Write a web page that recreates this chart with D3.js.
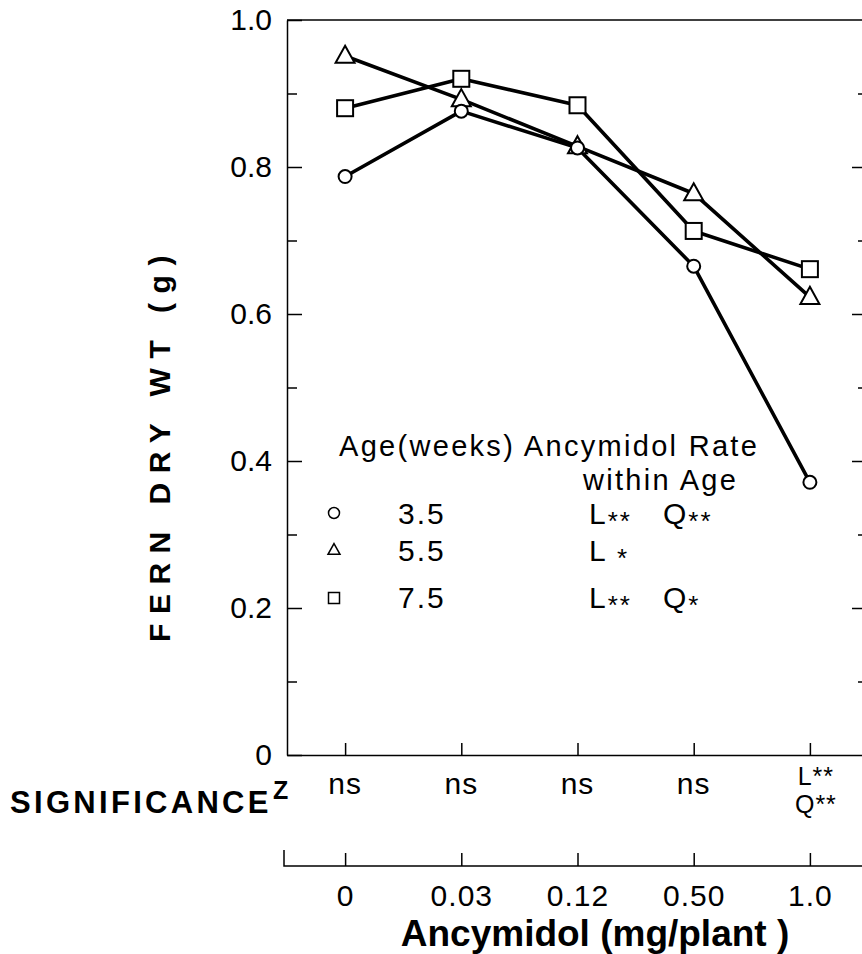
<!DOCTYPE html>
<html>
<head>
<meta charset="utf-8">
<script src="https://cdn.jsdelivr.net/npm/d3@7/dist/d3.min.js"></script>
<style>
  html, body { margin: 0; padding: 0; background: #fff; }
  svg { display: block; }
  text { font-family: "Liberation Sans", Arial, Helvetica, sans-serif; fill: #000; }
</style>
</head>
<body>
<svg id="chart" width="862" height="954"></svg>
<script>
// ---- data ----
const categories = ["0", "0.03", "0.12", "0.50", "1.0"];
const age35 = [0.787, 0.876, 0.826, 0.665, 0.371];
const age55 = [0.951, 0.892, 0.828, 0.764, 0.623];
const age75 = [0.880, 0.920, 0.884, 0.713, 0.661];
const yMajorTicks = [0, 0.2, 0.4, 0.6, 0.8, 1.0];
const yMinorTicks = [0.1, 0.3, 0.5, 0.7, 0.9];
const significance = [["ns"], ["ns"], ["ns"], ["ns"], ["L**", "Q**"]];
const legendAges = ["3.5", "5.5", "7.5"];
const legendRates = [["L", "**", "   Q", "**"], ["L", " *"], ["L", "**", "   Q", "*"]];
const seriesShapes = ["circle", "triangle", "square"];

// ---- layout ----
const svg = d3.select("#chart");
const plotL = 287, plotR = 868, plotT = 20, plotB = 755;

const x = d3.scalePoint().domain(categories).range([plotL, plotR]).padding(0.5);
const y = d3.scaleLinear().domain([0, 1]).range([plotB, plotT]);

const series = [
  { values: age35, shape: "circle" },
  { values: age55, shape: "triangle" },
  { values: age75, shape: "square" }
];

// frame top
svg.append("line").attr("x1", plotL).attr("x2", plotR).attr("y1", plotT).attr("y2", plotT)
  .attr("stroke", "#000").attr("stroke-width", 1.5);

// left axis major
const gL = svg.append("g").attr("transform", `translate(${plotL},0)`)
  .call(d3.axisLeft(y).tickValues(yMajorTicks).tickSizeInner(-15).tickSizeOuter(0).tickPadding(15)
    .tickFormat(d => d === 0 ? "0" : d3.format(".1f")(d)));
gL.select(".domain").attr("stroke-width", 1.5);
gL.selectAll(".tick line").attr("stroke-width", 1.5);
gL.selectAll(".tick text").attr("font-size", 30).attr("font-family", "Liberation Sans, Arial, sans-serif");
// left axis minor
const gLm = svg.append("g").attr("transform", `translate(${plotL},0)`)
  .call(d3.axisLeft(y).tickValues(yMinorTicks).tickSizeInner(-10).tickSizeOuter(0).tickFormat(""));
gLm.select(".domain").remove();
gLm.selectAll(".tick line").attr("stroke-width", 1.5);

// right axis
const gR = svg.append("g").attr("transform", `translate(${plotR - 2},0)`)
  .call(d3.axisRight(y).tickValues(yMajorTicks.filter(d => d > 0 && d < 1)).tickSizeInner(-14).tickSizeOuter(0).tickFormat(""));
gR.selectAll(".tick line").attr("stroke-width", 1.5);
const gRm = svg.append("g").attr("transform", `translate(${plotR - 2},0)`)
  .call(d3.axisRight(y).tickValues(yMinorTicks).tickSizeInner(-8).tickSizeOuter(0).tickFormat(""));
gRm.select(".domain").remove();
gRm.selectAll(".tick line").attr("stroke-width", 1.5);

// bottom axis of plot (ticks inward, no labels)
const gB = svg.append("g").attr("transform", `translate(0,${plotB})`)
  .call(d3.axisBottom(x).tickSizeInner(-12).tickSizeOuter(0).tickFormat(""));
gB.select(".domain").attr("stroke-width", 1.5);
gB.selectAll(".tick line").attr("stroke-width", 1.5);

// second (dose) axis
const axis2Y = 866;
const gB2 = svg.append("g").attr("transform", `translate(0,${axis2Y})`)
  .call(d3.axisBottom(x).tickSizeInner(-13).tickSizeOuter(0).tickPadding(40));
gB2.select(".domain").attr("d", `M${plotL - 3},-16V0H${plotR}`).attr("stroke-width", 1.5);
gB2.selectAll(".tick line").attr("stroke-width", 1.5);
gB2.selectAll(".tick text").attr("font-size", 30).attr("font-family", "Liberation Sans, Arial, sans-serif")
  .attr("dy", "0").attr("letter-spacing", 1);

// lines
const line = d3.line().x((d, i) => x(categories[i])).y(d => y(d));
series.forEach(s => {
  svg.append("path").datum(s.values).attr("d", line)
    .attr("fill", "none").attr("stroke", "#000").attr("stroke-width", 3.6).attr("stroke-linejoin", "round");
});

function drawMarker(g, shape, cx, cy, size, sw) {
  if (shape === "circle") {
    g.append("circle").attr("cx", cx).attr("cy", cy).attr("r", size / 2)
      .attr("fill", "#fff").attr("stroke", "#000").attr("stroke-width", sw);
  } else if (shape === "square") {
    g.append("rect").attr("x", cx - size / 2).attr("y", cy - size / 2).attr("width", size).attr("height", size)
      .attr("fill", "#fff").attr("stroke", "#000").attr("stroke-width", sw);
  } else {
    const h = size * 0.9;
    g.append("path").attr("d", `M${cx},${cy - h * 0.6}L${cx + size / 2},${cy + h * 0.4}L${cx - size / 2},${cy + h * 0.4}Z`)
      .attr("fill", "#fff").attr("stroke", "#000").attr("stroke-width", sw).attr("stroke-linejoin", "miter");
  }
}
const gM = svg.append("g");
[series[2], series[1], series[0]].forEach(s => {
  const size = s.shape === "circle" ? 13 : (s.shape === "square" ? 16 : 19);
  s.values.forEach((v, i) => drawMarker(gM, s.shape, x(categories[i]), y(v), size, 2));
});

// legend
const fs = 30;
const lg = svg.append("g").attr("font-size", fs).attr("letter-spacing", 2);
lg.append("text").attr("x", 339).attr("y", 456).attr("font-size", 29).attr("letter-spacing", 2.3)
  .text("Age(weeks) Ancymidol Rate");
lg.append("text").attr("x", 583).attr("y", 490).attr("font-size", 29).attr("letter-spacing", 2.3)
  .text("within Age");
const rowY = [524, 561, 608];
const markerY = [513, 550, 598];
legendAges.forEach((a, i) => {
  const sz = seriesShapes[i] === "circle" ? 11 : (seriesShapes[i] === "square" ? 11 : 12);
  drawMarker(lg, seriesShapes[i], 334, markerY[i], sz, 1.5);
  lg.append("text").attr("x", 398).attr("y", rowY[i]).text(a);
  const t = lg.append("text").attr("x", 589).attr("y", rowY[i]).attr("xml:space", "preserve");
  let shifted = false;
  legendRates[i].forEach(part => {
    const isStar = part.indexOf("*") >= 0;
    const dy = isStar ? (shifted ? 0 : 6) : (shifted ? -6 : 0);
    shifted = isStar;
    t.append("tspan").attr("font-size", isStar ? 26 : fs).attr("dy", dy).text(part);
  });
});

// significance row
const sig = svg.append("g").attr("font-size", 30).attr("letter-spacing", 1);
significance.forEach((labels, i) => {
  const multi = labels.length > 1;
  const cx = x(categories[i]) + (multi ? 6 : 0);
  const t = sig.append("text").attr("x", cx)
    .attr("y", multi ? 785 : 794).attr("text-anchor", "middle")
    .attr("font-size", multi ? 25 : 30);
  labels.forEach((lab, j) => {
    t.append("tspan").attr("x", cx).attr("dy", j === 0 ? 0 : 28).text(lab);
  });
});
svg.append("text").attr("x", 10).attr("y", 813).attr("font-size", 31).attr("font-weight", "bold")
  .attr("letter-spacing", 3.3).text("SIGNIFICANCE");
svg.append("text").attr("x", 273).attr("y", 799).attr("font-size", 25).attr("font-weight", "bold").text("Z");

// axis titles
svg.append("text").attr("transform", "translate(170,444) rotate(-90)").attr("text-anchor", "middle")
  .attr("font-size", 30).attr("font-weight", "bold").attr("letter-spacing", 9.5).text("FERN DRY WT (g)");
svg.append("text").attr("x", 595).attr("y", 946).attr("text-anchor", "middle")
  .attr("font-size", 37).attr("font-weight", "bold").attr("xml:space", "preserve").text("Ancymidol (mg/plant )");
</script>
</body>
</html>
